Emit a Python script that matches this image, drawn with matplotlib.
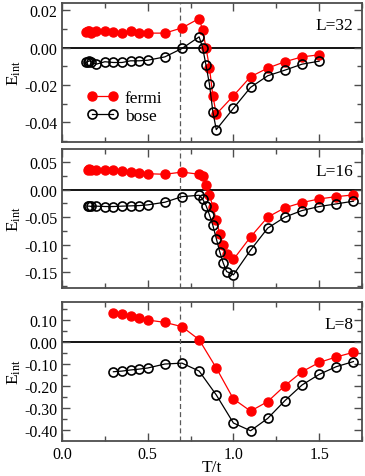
import numpy as np
import matplotlib
matplotlib.use('Agg')
import matplotlib.pyplot as plt
from matplotlib.ticker import MultipleLocator, FormatStrFormatter

plt.rcParams['font.family'] = ['Liberation Serif', 'DejaVu Serif']
plt.rcParams['mathtext.fontset'] = 'custom'
plt.rcParams['mathtext.rm'] = 'Liberation Serif'
plt.rcParams['mathtext.it'] = 'Liberation Serif:italic'

# L=32
t32 = [0.14, 0.15, 0.16, 0.17, 0.2, 0.25, 0.3, 0.35, 0.4, 0.45, 0.5, 0.6, 0.7,
       0.8, 0.82, 0.84, 0.86, 0.88, 0.9, 1.0, 1.1, 1.2, 1.3, 1.4, 1.5]
fermi32 = [0.0085, 0.0089, 0.0088, 0.0080, 0.0089, 0.0089, 0.0085, 0.0080, 0.0087,
           0.0080, 0.0077, 0.0077, 0.0105, 0.0155, 0.0094, 0.0000, -0.0107,
           -0.0258, -0.0356, -0.0258, -0.0156, -0.0110, -0.0076, -0.0050, -0.0039]
bose32 = [-0.0080, -0.0076, -0.0071, -0.0076, -0.0089, -0.0076, -0.0080, -0.0080,
          -0.0071, -0.0071, -0.0068, -0.0050, -0.0005, 0.0057, 0.0000, -0.0094,
          -0.0196, -0.0343, -0.0439, -0.0325, -0.0213, -0.0151, -0.0121, -0.0089, -0.0073]

# L=16
t16 = [0.15, 0.16, 0.17, 0.2, 0.25, 0.3, 0.35, 0.4, 0.45, 0.5, 0.6, 0.7, 0.8, 0.82,
       0.84, 0.86, 0.88, 0.9, 0.92, 0.94, 0.96, 1.0, 1.1, 1.2, 1.3, 1.4, 1.5, 1.6, 1.7]
fermi16 = [0.0355, 0.0370, 0.0360, 0.0355, 0.0355, 0.0350, 0.0340, 0.0330, 0.0310,
           0.0290, 0.0280, 0.0320, 0.0280, 0.0250, 0.0080, -0.0090, -0.0310, -0.0550,
           -0.0800, -0.1010, -0.1170, -0.1270, -0.0860, -0.0500, -0.0330, -0.0235,
           -0.0169, -0.0127, -0.0096]
bose16 = [-0.0300, -0.0300, -0.0305, -0.0300, -0.0307, -0.0307, -0.0300, -0.0295,
          -0.0290, -0.0277, -0.0229, -0.0127, -0.0102, -0.0169, -0.0289, -0.0458,
          -0.0650, -0.0890, -0.1130, -0.1330, -0.1490, -0.1550, -0.1100, -0.0700,
          -0.0500, -0.0380, -0.0307, -0.0259, -0.0210]

# L=8
t8 = [0.3, 0.35, 0.4, 0.45, 0.5, 0.6, 0.7, 0.8, 0.9, 1.0, 1.1, 1.2, 1.3, 1.4, 1.5, 1.6, 1.7]
fermi8 = [0.128, 0.125, 0.115, 0.106, 0.098, 0.0875, 0.068, 0.009, -0.119, -0.259,
          -0.314, -0.271, -0.199, -0.136, -0.094, -0.069, -0.048]
bose8 = [-0.136, -0.133, -0.128, -0.124, -0.119, -0.101, -0.097, -0.133, -0.241,
         -0.368, -0.403, -0.347, -0.267, -0.196, -0.148, -0.113, -0.090]

T_c = 0.69

panels = [
    ('L=32', t32, fermi32, t32, bose32, (-0.0505, 0.0238), 0.02, 0.01),
    ('L=16', t16, fermi16, t16, bose16, (-0.179, 0.074), 0.05, 0.025),
    ('L=8', t8, fermi8, t8, bose8, (-0.448, 0.181), 0.10, 0.05),
]
tops = [4, 150, 302.7]
H = 139

fig = plt.figure(figsize=(3.65, 4.77), dpi=100)
axes = []
for i, (lab, tf, ef, tb, eb, ylim, maj, mnr) in enumerate(panels):
    top = tops[i]
    ax = fig.add_axes([62 / 365, (477 - top - H) / 477, 300 / 365, H / 477])
    ax.axhline(0, color='k', lw=1.3, zorder=1)
    ax.axvline(T_c, color='0.35', lw=0.9, ls=(0, (4, 2.5)), zorder=1)
    ax.plot(tf, ef, '-o', color='red', lw=0.9, ms=6.5, mfc='red', mec='red', label='fermi', zorder=3)
    ax.plot(tb, eb, '-o', color='black', lw=0.9, ms=6.5, mfc='none', mec='black', mew=1.2, label='bose', zorder=3)
    ax.set_xlim(0, 1.75)
    ax.set_ylim(*ylim)
    ax.xaxis.set_major_locator(MultipleLocator(0.5))
    ax.xaxis.set_minor_locator(MultipleLocator(0.25))
    ax.yaxis.set_major_locator(MultipleLocator(maj))
    ax.yaxis.set_minor_locator(MultipleLocator(mnr))
    ax.yaxis.set_major_formatter(FormatStrFormatter('%.2f'))
    ax.xaxis.set_major_formatter(FormatStrFormatter('%.1f'))
    ax.tick_params(which='both', direction='in', top=True, right=True, labelsize=11.5,
                   color='0.3')
    ax.tick_params(which='major', length=6, width=1)
    ax.tick_params(which='minor', length=3.5, width=1)
    for s in ax.spines.values():
        s.set_linewidth(1.3)
        s.set_color('0.3')
    ax.set_ylabel(r'E$_{\rm int}$', fontsize=12.5)
    ax.yaxis.set_label_coords(-0.13, 0.5)
    ax.text(0.97, 0.84, lab, transform=ax.transAxes, ha='right', va='center', fontsize=12.5)
    if i < 2:
        ax.tick_params(labelbottom=False)
    axes.append(ax)

axes[-1].set_xlabel('T/t', fontsize=12.5, labelpad=-1.5)
axes[0].legend(loc='lower left', bbox_to_anchor=(0.03, 0.015), frameon=False, fontsize=12.5,
               handlelength=1.8, handletextpad=0.4, labelspacing=0.1, numpoints=2)

fig.savefig('out.png', dpi=100)
